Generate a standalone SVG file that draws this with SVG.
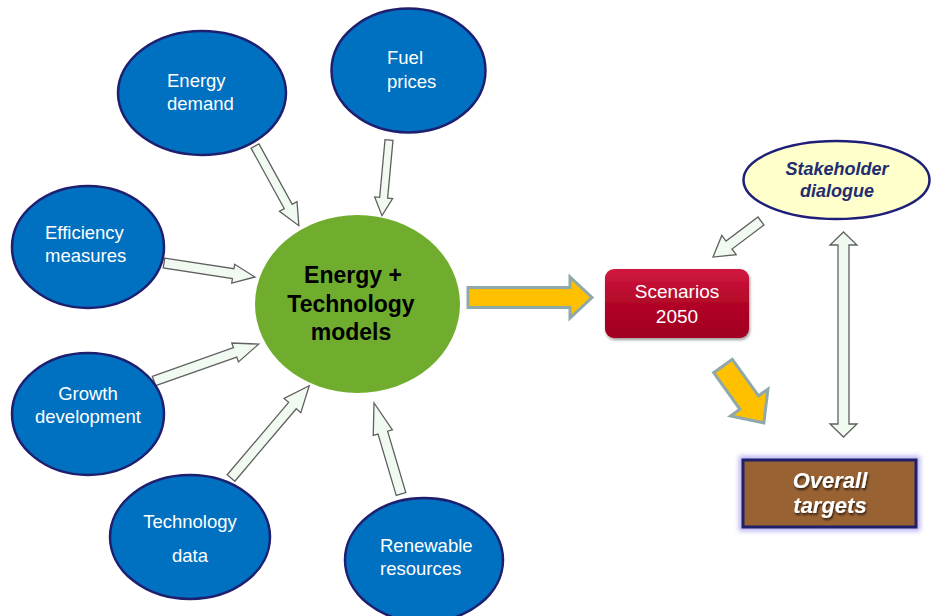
<svg xmlns="http://www.w3.org/2000/svg" width="934" height="616" viewBox="0 0 934 616">
<defs>
<linearGradient id="red" x1="0" y1="0" x2="0" y2="1">
<stop offset="0" stop-color="#D01840"/>
<stop offset="0.5" stop-color="#B30628"/>
<stop offset="1" stop-color="#A00020"/>
</linearGradient>
<filter id="sh" x="-10%" y="-10%" width="130%" height="140%">
<feGaussianBlur in="SourceAlpha" stdDeviation="1.5"/>
<feOffset dx="1" dy="2" result="b"/>
<feComponentTransfer><feFuncA type="linear" slope="0.4"/></feComponentTransfer>
<feMerge><feMergeNode/><feMergeNode in="SourceGraphic"/></feMerge>
</filter>
<filter id="glow" x="-10%" y="-20%" width="120%" height="140%">
<feGaussianBlur stdDeviation="2.5"/>
</filter>
<filter id="tsh" x="-10%" y="-20%" width="130%" height="150%">
<feGaussianBlur in="SourceAlpha" stdDeviation="0.8"/>
<feOffset dx="1" dy="2"/>
<feComponentTransfer><feFuncA type="linear" slope="0.7"/></feComponentTransfer>
<feMerge><feMergeNode/><feMergeNode in="SourceGraphic"/></feMerge>
</filter>
</defs>
<style>
.blue{fill:#0070C0;stroke:#1F1F70;stroke-width:2.5}
.wt{font-family:"Liberation Sans",Arial,sans-serif;font-size:18.5px;fill:#FFFFFF}
.ga{fill:#F1FAF1;stroke:#606060;stroke-width:1.3;stroke-linejoin:miter}
.ya{fill:#FFC000;stroke:#8FA9AB;stroke-width:3;stroke-linejoin:miter}
</style>

<g id="connectors">
<polygon class="ga" transform="translate(255,146) rotate(61.2)" points="0,-4.5 69,-4.5 69,-10 91,0 69,10 69,4.5 0,4.5"/>
<polygon class="ga" transform="translate(389,140) rotate(95.3)" points="0,-4 58,-4 58,-9 76,0 58,9 58,4 0,4"/>
<polygon class="ga" transform="translate(164,263) rotate(8.75)" points="0,-5 70,-5 70,-9.5 92,0 70,9.5 70,5 0,5"/>
<polygon class="ga" transform="translate(154,381) rotate(-19.4)" points="0,-5 86,-5 86,-10 111,0 86,10 86,5 0,5"/>
<polygon class="ga" transform="translate(231,478) rotate(-49.7)" points="0,-5 95,-5 95,-11 121,0 95,11 95,5 0,5"/>
<polygon class="ga" transform="translate(401,494) rotate(-106.5)" points="0,-5 64,-5 64,-10 95,0 64,10 64,5 0,5"/>
<polygon class="ga" transform="translate(761,221) rotate(143.1)" points="0,-5 40,-5 40,-12 60,0 40,12 40,5 0,5"/>
<polygon class="ga" points="843.5,232 857,245 849,245 849,424 857,424 843.5,437 830,424 838,424 838,245 830,245"/>
<polygon class="ya" transform="translate(468,297.5)" points="0,-10 102,-10 102,-20.5 124,0 102,20.5 102,10 0,10"/>
<polygon class="ya" transform="translate(723,366) rotate(54.3)" points="0,-11.5 45,-11.5 45,-23 70,0 45,23 45,11.5 0,11.5"/>
</g>

<g id="energy-demand">
<ellipse class="blue" cx="202" cy="93" rx="84" ry="62"/>
<text class="wt" x="167" y="87">Energy</text>
<text class="wt" x="167" y="110">demand</text>
</g>

<g id="fuel-prices">
<ellipse class="blue" cx="408.5" cy="70.5" rx="77" ry="62"/>
<text class="wt" x="387" y="64">Fuel</text>
<text class="wt" x="387" y="88">prices</text>
</g>

<g id="efficiency-measures">
<ellipse class="blue" cx="88" cy="247" rx="76" ry="61"/>
<text class="wt" x="45" y="239">Efficiency</text>
<text class="wt" x="45" y="262">measures</text>
</g>

<g id="growth-development">
<ellipse class="blue" cx="88" cy="414" rx="76" ry="61"/>
<text class="wt" x="88" y="400" text-anchor="middle">Growth</text>
<text class="wt" x="88" y="423" text-anchor="middle">development</text>
</g>

<g id="technology-data">
<ellipse class="blue" cx="190" cy="537" rx="80" ry="62"/>
<text class="wt" x="190" y="528" text-anchor="middle">Technology</text>
<text class="wt" x="190" y="562" text-anchor="middle">data</text>
</g>

<g id="renewable-resources">
<ellipse class="blue" cx="424" cy="560" rx="79" ry="62"/>
<text class="wt" x="380" y="552">Renewable</text>
<text class="wt" x="380" y="575">resources</text>
</g>

<g id="models">
<ellipse cx="357.5" cy="304" rx="102.5" ry="89" fill="#70AD2F"/>
<g font-family="'Liberation Sans',Arial,sans-serif" font-size="23px" font-weight="bold" fill="#000000" text-anchor="middle">
<text x="353" y="283">Energy +</text>
<text x="351" y="312">Technology</text>
<text x="351" y="340">models</text>
</g>
</g>

<g id="scenarios">
<rect x="605" y="269" width="144" height="69" rx="9" fill="url(#red)" filter="url(#sh)"/>
<g font-family="'Liberation Sans',Arial,sans-serif" font-size="19px" fill="#FFFFFF" text-anchor="middle">
<text x="677" y="298">Scenarios</text>
<text x="677" y="323">2050</text>
</g>
</g>

<g id="stakeholder-dialogue">
<ellipse cx="836.5" cy="180" rx="93" ry="39" fill="#FFFFCC" stroke="#1F1F7A" stroke-width="2.5"/>
<g font-family="'Liberation Sans',Arial,sans-serif" font-size="18px" font-weight="bold" font-style="italic" fill="#232D6E" text-anchor="middle">
<text x="837" y="175">Stakeholder</text>
<text x="837" y="197">dialogue</text>
</g>
</g>

<g id="overall-targets">
<rect x="742" y="459" width="175" height="69" fill="none" stroke="#B4ACF2" stroke-width="6" filter="url(#glow)"/>
<rect x="743" y="460" width="173" height="67" fill="#996233" stroke="#1F1F6B" stroke-width="3"/>
<g font-family="'Liberation Sans',Arial,sans-serif" font-size="22px" font-weight="bold" font-style="italic" text-anchor="middle" fill="#FFFFFF" filter="url(#tsh)">
<text x="830" y="488">Overall</text>
<text x="830" y="513">targets</text>
</g>
</g>
</svg>
